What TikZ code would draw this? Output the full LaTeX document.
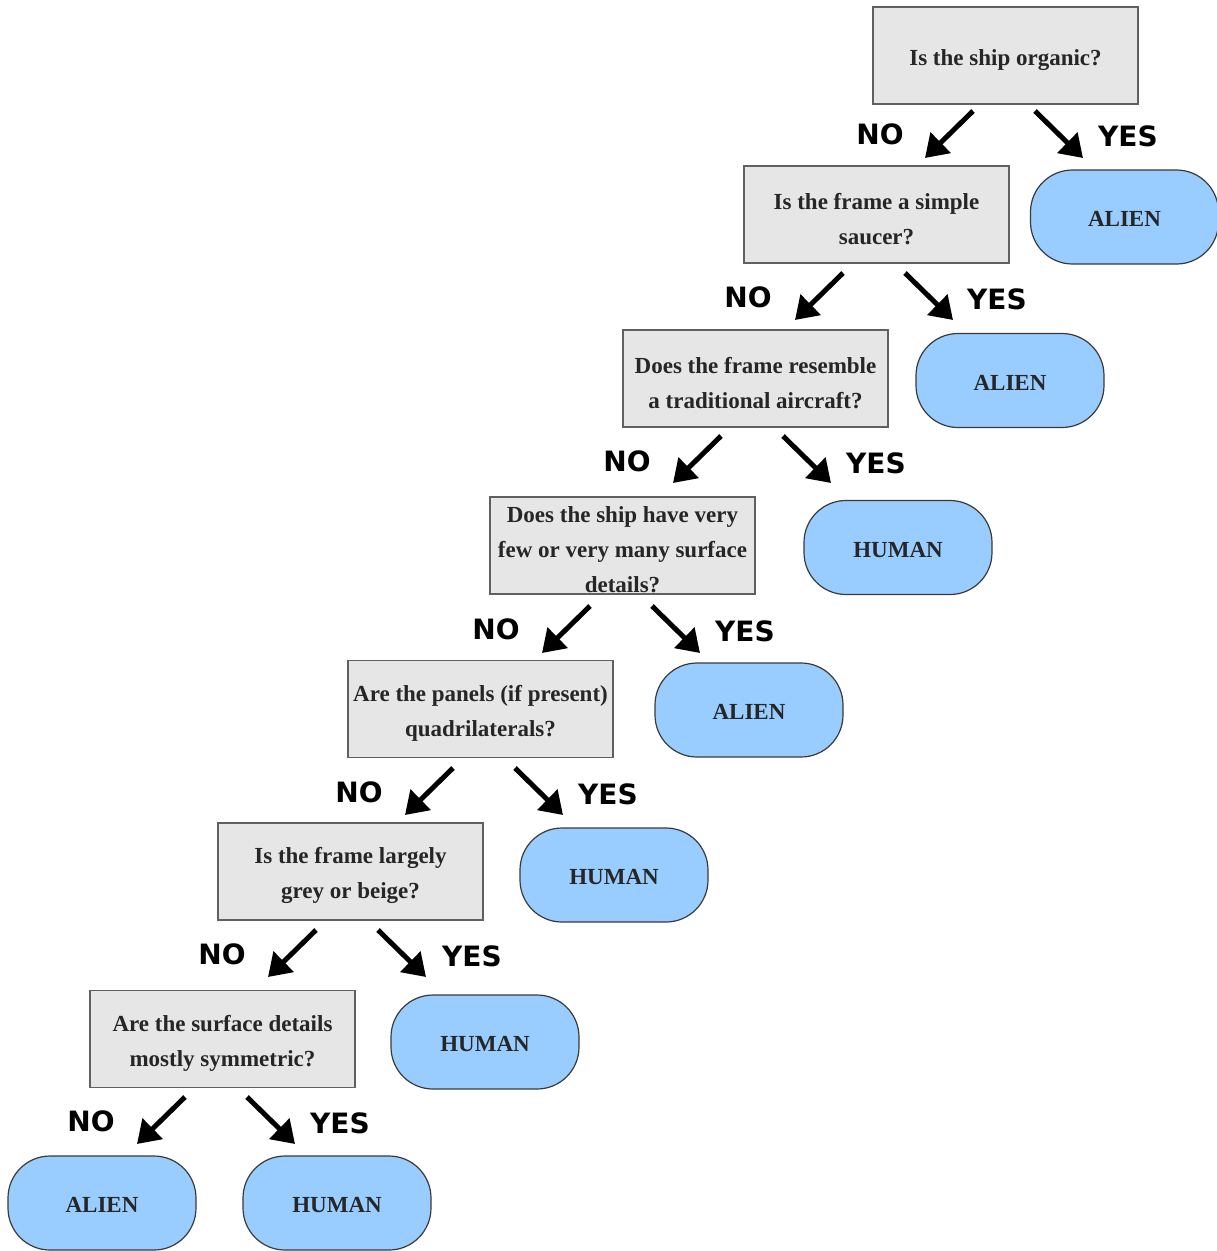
\documentclass[tikz,border=0pt]{standalone}
\usepackage{fontspec}
\setmainfont{Liberation Serif}
\newfontfamily\lblfont{DejaVu Sans}
\usetikzlibrary{arrows.meta,calc}
\definecolor{qfill}{HTML}{E6E6E6}
\definecolor{qline}{HTML}{606060}
\definecolor{tfill}{HTML}{99CCFF}
\definecolor{tline}{HTML}{3A3A3A}
\definecolor{txt}{HTML}{262626}
\newcommand\tpstrut{\rule{0pt}{25pt}}
\tikzset{
  qbox/.style={draw=qline, line width=1.2pt, fill=qfill, minimum width=265pt, minimum height=97pt,
    inner sep=0pt, align=center, text=txt, font=\fontsize{23}{35}\selectfont\bfseries},
  term/.style={draw=tline, line width=1.2pt, fill=tfill, minimum width=188pt, minimum height=94pt,
    rounded corners=42pt, inner sep=0pt, text=txt, text height=19pt, text depth=0pt,
    font=\fontsize{23}{28}\selectfont\bfseries},
  arr/.style={line width=5pt, -{Triangle[length=22pt,width=28pt]}},
  lbl/.style={font=\lblfont\fontsize{28}{30}\selectfont\bfseries, inner sep=0pt}
}
\begin{document}
\begin{tikzpicture}[x=1pt,y=-1pt]
\useasboundingbox[fill=white] (0,0) rectangle (1217,1251);
% question boxes
\node[qbox] (q1) at (1005.5,55.5) {\tpstrut Is the ship organic?};
\node[qbox] (q2) at (876.5,214.5) {\tpstrut Is the frame a simple\\saucer?};
\node[qbox] (q3) at (755.5,378.5) {\tpstrut Does the frame resemble\\a traditional aircraft?};
\node[qbox] (q4) at (622.5,545.5) {\tpstrut Does the ship have very\\few or very many surface\\details?};
\node[qbox] (q5) at (480.5,709) {\tpstrut Are the panels (if present)\\quadrilaterals?};
\node[qbox] (q6) at (350.5,871.5) {\tpstrut Is the frame largely\\grey or beige?};
\node[qbox] (q7) at (222.5,1039) {\tpstrut Are the surface details\\mostly symmetric?};
% terminals
\node[term] (t1) at (1124.5,217) {ALIEN};
\node[term] (t2) at (1010,380.5) {ALIEN};
\node[term] (t3) at (898,547.5) {HUMAN};
\node[term] (t4) at (749,710) {ALIEN};
\node[term] (t5) at (614,875) {HUMAN};
\node[term] (t6) at (485,1042) {HUMAN};
\node[term] (t7) at (102,1203) {ALIEN};
\node[term] (t8) at (337,1203) {HUMAN};
% arrows and labels: start of NO arrow (x,y), NO label, YES label
\foreach \q/\sx/\sy/\nx/\ny/\yx/\yy in {
  q1/973/111/880/134/1128/136,
  q2/843/273/748/297/997/299,
  q3/721/436/627/461/876/463,
  q4/590/606/496/629/745/631,
  q5/453/768/359/792/608/794,
  q6/316/930/222/954/472/956,
  q7/185/1097/91/1121/340/1123}{
  \coordinate (\q nos) at (\sx,\sy);
  \coordinate (\q noe) at ($(\q nos)+(-48,47)$);
  \coordinate (\q yess) at ($(\q nos)+(62,0)$);
  \coordinate (\q yese) at ($(\q yess)+(48,47)$);
  \draw[arr] (\q nos) -- (\q noe);
  \draw[arr] (\q yess) -- (\q yese);
  \node[lbl] (\q no) at (\nx,\ny) {NO};
  \node[lbl] (\q yes) at (\yx,\yy) {YES};
}
\end{tikzpicture}
\end{document}
